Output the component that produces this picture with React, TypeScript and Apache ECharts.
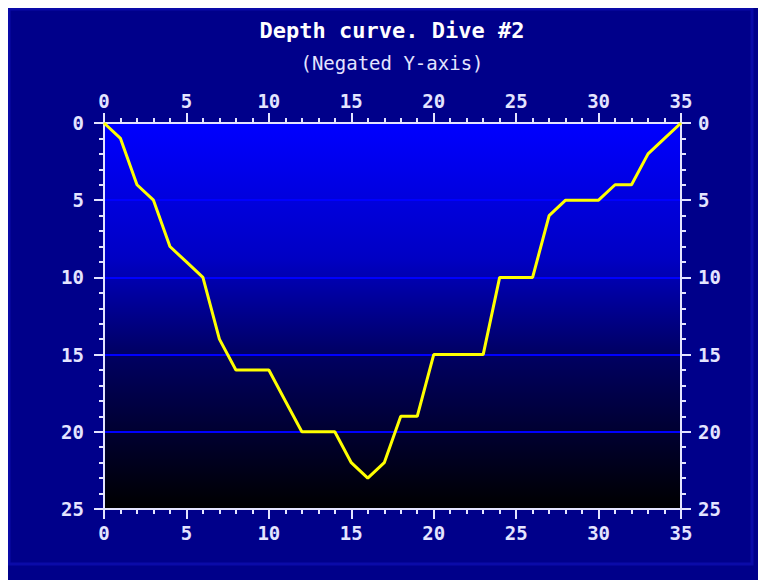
import React, { useEffect, useRef } from "react";
import * as echarts from "echarts";

const minutes = [0, 1, 2, 3, 4, 5, 6, 7, 8, 9, 10, 11, 12, 13, 14, 15, 16, 17, 18, 19, 20, 21, 22, 23, 24, 25, 26, 27, 28, 29, 30, 31, 32, 33, 34, 35];
const depths = [0, 1, 4, 5, 8, 9, 10, 14, 16, 16, 16, 18, 20, 20, 20, 22, 23, 22, 19, 19, 15, 15, 15, 15, 10, 10, 10, 6, 5, 5, 5, 4, 4, 2, 1, 0];
const titleText = "Depth curve. Dive #2";
const subtitleText = "(Negated Y-axis)";

const FONT = "'DejaVu Sans Mono', 'Liberation Mono', monospace";
const AXIS_COLOR = "#e4e4ff";

export default function App() {
  const ref = useRef<HTMLDivElement>(null);
  useEffect(() => {
    document.body.style.overflow = "hidden";
    const chart = echarts.init(ref.current!, null, { renderer: "svg" });
    const labelStyle = { color: AXIS_COLOR, fontFamily: FONT, fontSize: 19, fontWeight: "bold" as const };
    const common = (kind: "x" | "y") => ({
      type: "value" as const,
      min: 0,
      max: kind === "x" ? 35 : 25,
      interval: 5,
      axisLine: { show: true, onZero: false, lineStyle: { color: AXIS_COLOR, width: 2 } },
      axisTick: { show: true, length: 10, lineStyle: { color: AXIS_COLOR, width: 2 } },
      minorTick: { show: true, splitNumber: 5, length: 5, lineStyle: { color: AXIS_COLOR, width: 2 } },
    });
    const data = minutes.map((m, i) => [m, depths[i]]);
    chart.setOption({
      animation: false,
      backgroundColor: "#00008a",
      graphic: [
        {
          type: "rect",
          shape: { x: 1, y: 1, width: 743, height: 555 },
          style: { fill: "none", stroke: "#0a0aa8", lineWidth: 3 },
          silent: true,
        },
        {
          type: "text",
          x: 384,
          y: 22,
          style: {
            text: titleText,
            fill: "#ffffff",
            font: `bold 22px ${FONT}`,
            textAlign: "center",
            textVerticalAlign: "middle",
          },
        },
        {
          type: "text",
          x: 384,
          y: 55,
          style: {
            text: subtitleText,
            fill: AXIS_COLOR,
            font: `19px ${FONT}`,
            textAlign: "center",
            textVerticalAlign: "middle",
          },
        },
      ],
      grid: {
        left: 96,
        top: 115,
        right: 85,
        bottom: 71,
        show: true,
        borderWidth: 0,
        backgroundColor: {
          type: "linear",
          x: 0,
          y: 0,
          x2: 0,
          y2: 1,
          colorStops: [
            { offset: 0, color: "#0000ff" },
            { offset: 0.35, color: "#0000c4" },
            { offset: 0.6, color: "#000062" },
            { offset: 1, color: "#000000" },
          ],
        },
      },
      xAxis: [
        {
          ...common("x"),
          position: "bottom",
          axisLabel: { ...labelStyle, margin: 14 },
          splitLine: { show: false },
        },
        {
          ...common("x"),
          position: "top",
          axisLabel: { ...labelStyle, margin: 13 },
          splitLine: { show: false },
        },
      ],
      yAxis: [
        {
          ...common("y"),
          position: "left",
          inverse: true,
          axisLabel: { ...labelStyle, margin: 20 },
          splitLine: { show: true, lineStyle: { color: "#0000ff", width: 2 } },
        },
        {
          ...common("y"),
          position: "right",
          inverse: true,
          axisLabel: { ...labelStyle, margin: 17 },
          splitLine: { show: false },
        },
      ],
      series: [
        {
          type: "line",
          xAxisIndex: 0,
          yAxisIndex: 0,
          data,
          showSymbol: false,
          lineStyle: { color: "#ffff00", width: 3 },
          z: 5,
        },
      ],
    });
    return () => chart.dispose();
  }, []);
  return <div ref={ref} style={{ width: 758, height: 572 }} />;
}
